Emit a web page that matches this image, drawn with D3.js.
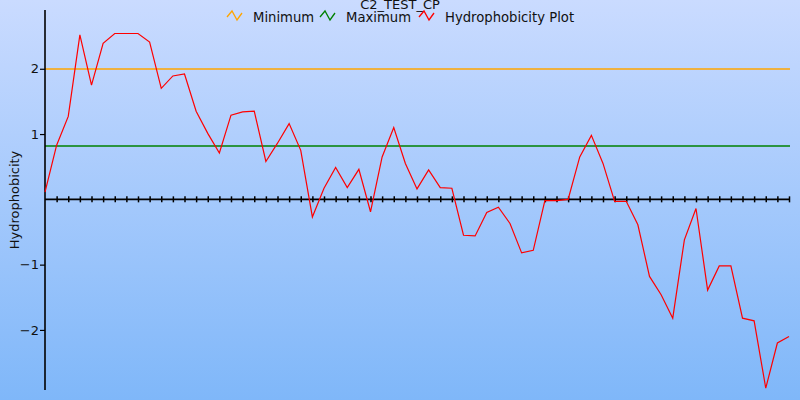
<!DOCTYPE html>
<html><head><meta charset="utf-8">
<script src="https://cdn.jsdelivr.net/npm/d3@7"></script>
<style>html,body{margin:0;padding:0;}svg{display:block;}</style>
</head><body><svg id="c" width="800" height="400"></svg>
<script>
const title = "C2_TEST_CP";
const yLabel = "Hydrophobicity";
const yTicks = [-2, -1, 1, 2];
const minimumValue = 2.0;
const maximumValue = 0.81;
const positions = d3.range(0, 65);
const hydrophobicity = [
 0.11, 0.83, 1.27, 2.52, 1.75, 2.39, 2.54, 2.54, 2.54, 2.41,
 1.70, 1.89, 1.92, 1.35, 1.01, 0.71, 1.29, 1.34, 1.35, 0.58,
 0.86, 1.16, 0.75, -0.27, 0.17, 0.49, 0.18, 0.46, -0.19, 0.65,
 1.10, 0.55, 0.16, 0.45, 0.18, 0.17, -0.55, -0.56, -0.20, -0.12,
 -0.37, -0.82, -0.78, -0.02, -0.02, 0.0, 0.65, 0.98, 0.55, -0.03,
 -0.03, -0.39, -1.18, -1.46, -1.82, -0.62, -0.14, -1.39, -1.02, -1.02,
 -1.82, -1.86, -2.89, -2.20, -2.10
];
const legendItems = [
 {name: "Minimum", color: "#ffa500"},
 {name: "Maximum", color: "#008000"},
 {name: "Hydrophobicity Plot", color: "#ff0000"}
];

const svg = d3.select("#c");
const font = "DejaVu Sans, Verdana, sans-serif";
const defs = svg.append("defs");
const grad = defs.append("linearGradient").attr("id","bg").attr("x1",0).attr("y1",0).attr("x2",0).attr("y2",1);
grad.append("stop").attr("offset","0%").attr("stop-color","#cadbff");
grad.append("stop").attr("offset","100%").attr("stop-color","#7fb7f9");
svg.append("rect").attr("width",800).attr("height",400).attr("fill","url(#bg)");

const x = d3.scaleLinear().domain([0, 64]).range([45, 789]);
const y = d3.scaleLinear().domain([-2.92, 2.9]).range([390, 10]);

// threshold lines
svg.append("line").attr("x1",x(0)).attr("x2",790).attr("y1",Math.round(y(minimumValue))).attr("y2",Math.round(y(minimumValue)))
  .attr("stroke","#ffa500").attr("stroke-width",1.4);
svg.append("line").attr("x1",x(0)).attr("x2",790).attr("y1",Math.round(y(maximumValue))).attr("y2",Math.round(y(maximumValue)))
  .attr("stroke","#008000").attr("stroke-width",1.4);

// x axis (through zero)
const xAxis = d3.axisBottom(x).tickValues(positions.slice(1)).tickSize(6).tickFormat("");
const gx = svg.append("g").attr("transform",`translate(0,${y(0)-3})`).call(xAxis);
gx.select(".domain").remove();
gx.selectAll(".tick line").attr("stroke","#000").attr("stroke-width",1.5);
svg.append("line").attr("x1",45).attr("x2",790).attr("y1",y(0)).attr("y2",y(0)).attr("stroke","#000").attr("stroke-width",1.6);

// y axis
const yAxis = d3.axisLeft(y).tickValues(yTicks).tickSize(5).tickFormat(d3.format("d")).tickPadding(1);
const gy = svg.append("g").attr("transform","translate(45,0)").call(yAxis);
gy.select(".domain").attr("d","M0,10V390").attr("stroke","#000").attr("stroke-width",1.6);
gy.selectAll(".tick line").attr("stroke","#000").attr("stroke-width",1.2);
gy.selectAll(".tick text").attr("font-family",font).attr("font-size",13).attr("fill","#111");

// y label
svg.append("text").attr("transform","translate(19,200) rotate(-90)").attr("text-anchor","middle")
  .attr("font-family",font).attr("font-size",13).attr("fill","#111").text(yLabel);

// data line
const line = d3.line().x((d,i)=>x(positions[i])).y(d=>y(d));
svg.append("path").datum(hydrophobicity).attr("d",line).attr("fill","none")
  .attr("stroke","#ff0000").attr("stroke-width",1.2);

// title
svg.append("text").attr("x",400).attr("y",9).attr("text-anchor","middle")
  .attr("font-family",font).attr("font-size",13).attr("fill","#111").text(title);

// legend
const legendX = [227, 320, 419];
legendItems.forEach((it,i)=>{
  const lx = legendX[i];
  svg.append("path").attr("d",`M${lx},17 L${lx+5},11 L${lx+10},20 L${lx+15},13`)
    .attr("fill","none").attr("stroke",it.color).attr("stroke-width",1.3);
  svg.append("text").attr("x",lx+26).attr("y",22).attr("font-family",font).attr("font-size",13.2)
    .attr("fill","#111").text(it.name);
});
</script></body></html>
